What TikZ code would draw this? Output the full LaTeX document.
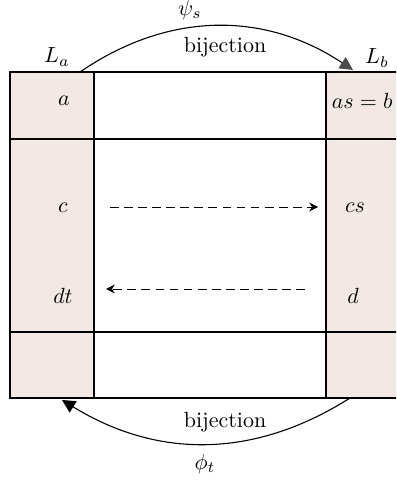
\documentclass[tikz,border=0pt]{standalone}
\usetikzlibrary{arrows.meta, positioning}
\definecolor{cellfill}{RGB}{242,233,228}

\begin{document}
\begin{tikzpicture}[
  x=0.455pt, y=-0.455pt,
  side/.style={draw, line width=0.5pt, fill=cellfill},
  mid/.style={draw, line width=0.5pt},
  bij/.style={-{Triangle[length=6pt, width=6pt]}, line width=0.5pt},
  dasharrow/.style={dash pattern=on 4pt off 2.4pt, -{Stealth[length=4pt, width=4pt]}}
]
  \clip (0,0) rectangle (396,483);

  % the three columns and the row rules
  \draw[side] (10,72) rectangle (94,398);
  \draw[side] (326,72) rectangle (416,398);
  \draw[mid] (94,72) rectangle (326,398);
  \draw[line width=0.5pt] (10,139) -- (416,139);
  \draw[line width=0.5pt] (10,332) -- (416,332);

  % labels
  \node (La) at (57,57) {$L_a$};
  \node (Lb) at (377,58) {$L_b$};
  \node (a) at (64,101) {$a$};
  \node[anchor=west] (b) at (324,101) {$as=b$};
  \node (c) at (63,208) {$c$};
  \node (cs) at (355,208) {$cs$};
  \node (dt) at (63,296) {$dt$};
  \node (d) at (353,296) {$d$};
  \node (psi) at (190,10) {$\psi_s$};
  \node (bijtop) at (225,47) {bijection};
  \node (bijbot) at (225,422) {bijection};
  \node (phi) at (205,464) {$\phi_t$};

  % connector ends
  \coordinate (topA) at (80,72);
  \coordinate (topB) at (353,70);
  \coordinate (botB) at (350,398);
  \coordinate (botA) at (62,400);
  \coordinate (cR) at (110,207);
  \coordinate (csL) at (318,207);
  \coordinate (dL) at (305,289);
  \coordinate (dtR) at (106,289);

  \draw[bij, -{Triangle[length=6pt, width=6pt, color=black!70]}] (topA) to[bend left=34] (topB);
  \draw[bij] (botB) to[bend left=32] (botA);
  \draw[dasharrow] (cR) -- (csL);
  \draw[dasharrow] (dL) -- (dtR);
\end{tikzpicture}
\end{document}
